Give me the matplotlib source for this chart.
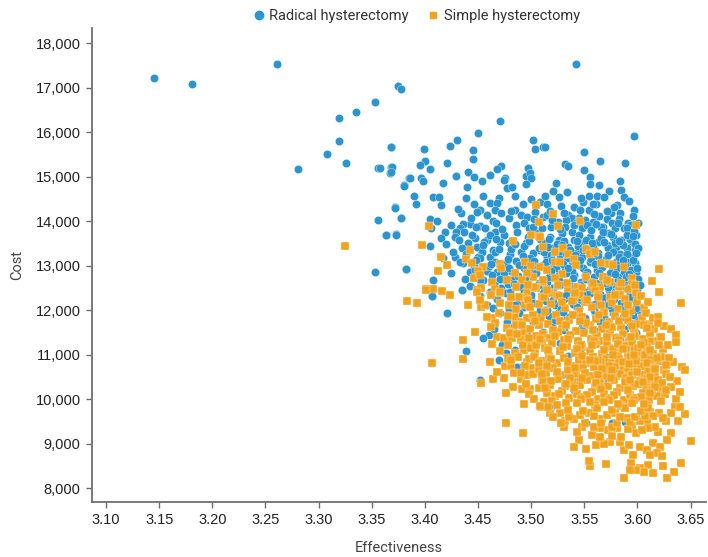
import numpy as np
import matplotlib
matplotlib.use("Agg")
import matplotlib.pyplot as plt
from matplotlib.ticker import FuncFormatter, FixedLocator
from matplotlib.lines import Line2D

# (effectiveness, cost) pairs
radical_outliers = [
    (3.145, 17230), (3.181, 17080), (3.261, 17540), (3.542, 17540), (3.375, 17047), (3.378, 16973),
    (3.353, 16674), (3.335, 16456), (3.319, 16315), (3.319, 15805), (3.308, 15512), (3.326, 15310),
    (3.281, 15175), (3.368, 15670), (3.356, 15191), (3.368, 15227), (3.367, 15092), (3.380, 14809),
    (3.385, 14980), (3.372, 14315), (3.378, 14068), (3.356, 14036), (3.363, 13700), (3.373, 13708),
    (3.353, 12861), (3.382, 12935),
]

radical_left = [
    (3.471, 16262), (3.450, 15977), (3.430, 15827), (3.424, 15700), (3.368, 15670), (3.399, 15632),
    (3.502, 15827), (3.504, 15617), (3.511, 15677), (3.445, 15610), (3.445, 15400), (3.400, 15363),
    (3.421, 15310), (3.395, 15266), (3.369, 15228), (3.368, 15100), (3.405, 15168), (3.358, 15190),
    (3.441, 15100), (3.472, 15236), (3.468, 15168), (3.497, 15190), (3.461, 15040), (3.429, 15026),
    (3.446, 14988), (3.396, 14980), (3.398, 14906), (3.386, 14980), (3.475, 14980), (3.474, 14928),
    (3.495, 15018), (3.499, 15078), (3.500, 14966), (3.417, 14853), (3.454, 14906), (3.380, 14800),
    (3.440, 14778), (3.495, 14838), (3.477, 14741), (3.482, 14778), (3.390, 14569), (3.455, 14576),
    (3.408, 14554), (3.413, 14539), (3.439, 14531), (3.470, 14516), (3.485, 14576), (3.392, 14381),
    (3.415, 14366), (3.446, 14381), (3.461, 14404), (3.468, 14404), (3.372, 14307), (3.452, 14254),
    (3.449, 14217), (3.466, 14254), (3.485, 14254), (3.500, 14494), (3.508, 14441), (3.434, 14194),
    (3.472, 14180), (3.490, 14142), (3.504, 14217), (3.496, 14105), (3.378, 14067), (3.405, 14045),
    (3.411, 14015), (3.479, 14067), (3.464, 14015), (3.511, 14105), (3.442, 13932), (3.436, 13932),
    (3.452, 13895), (3.433, 13857), (3.457, 13857), (3.486, 13917), (3.493, 13955), (3.406, 13842),
    (3.419, 13767), (3.429, 13767), (3.363, 13700), (3.373, 13700), (3.466, 13767), (3.428, 13655),
    (3.415, 13633), (3.447, 13633), (3.458, 13580), (3.474, 13693), (3.497, 13655), (3.505, 13730),
    (3.441, 13505), (3.405, 13445), (3.435, 13393), (3.449, 13415), (3.471, 13528), (3.479, 13505),
    (3.495, 13505), (3.454, 13318), (3.464, 13355), (3.480, 13258), (3.490, 13318), (3.508, 13355),
    (3.428, 13206), (3.450, 13206), (3.461, 13206), (3.417, 13168), (3.436, 13056), (3.446, 12996),
    (3.466, 13093), (3.486, 13108), (3.382, 12929), (3.425, 12831), (3.442, 12869), (3.458, 12891),
    (3.468, 12869), (3.482, 12869), (3.493, 12944), (3.500, 12891), (3.408, 12681), (3.442, 12554),
    (3.455, 12681), (3.466, 12629), (3.483, 12644), (3.496, 12606), (3.507, 12606), (3.435, 12457),
    (3.472, 12494), (3.407, 12329), (3.452, 12322),
    (3.431, 14280), (3.443, 14080), (3.458, 14150), (3.467, 13960), (3.481, 14240), (3.492, 14380),
    (3.503, 14060), (3.425, 13920), (3.437, 13760), (3.448, 13880), (3.461, 13700), (3.473, 13830),
    (3.487, 13770), (3.498, 13860), (3.508, 13600), (3.420, 13500), (3.432, 13580), (3.444, 13700),
    (3.456, 13530), (3.467, 13600), (3.481, 13380), (3.493, 13440), (3.502, 13290), (3.426, 13300),
    (3.439, 13270), (3.452, 13180), (3.466, 13300), (3.476, 13050), (3.489, 13020), (3.499, 13170),
    (3.433, 13090), (3.447, 12900), (3.460, 12990), (3.474, 12840), (3.484, 12770), (3.497, 12820),
    (3.506, 12970), (3.438, 12700), (3.452, 12680), (3.465, 12560), (3.478, 12600), (3.490, 12530),
]

radical_right = [
    (3.597, 15925), (3.513, 15677), (3.550, 15558), (3.565, 15348), (3.588, 15310), (3.532, 15288),
    (3.535, 15236), (3.550, 15146), (3.555, 15003), (3.584, 14913), (3.523, 14853), (3.555, 14831),
    (3.564, 14808), (3.521, 14689), (3.573, 14681), (3.585, 14704), (3.526, 14539), (3.554, 14576),
    (3.562, 14576), (3.587, 14554), (3.515, 14389), (3.549, 14441), (3.561, 14381), (3.581, 14374),
    (3.540, 14314), (3.546, 14254), (3.554, 14254), (3.584, 14194), (3.575, 14194), (3.515, 14142),
    (3.535, 14142), (3.538, 14067), (3.564, 14120), (3.533, 14030), (3.543, 13992), (3.551, 14030),
    (3.558, 13992), (3.571, 14045), (3.576, 13955), (3.591, 13970), (3.519, 13880), (3.532, 13880),
    (3.548, 13842), (3.568, 13865), (3.587, 13842), (3.599, 13693), (3.529, 13730), (3.518, 13655),
    (3.555, 13655), (3.573, 13730), (3.577, 13655), (3.591, 13655), (3.526, 13580), (3.540, 13580),
    (3.563, 13543), (3.585, 13580), (3.595, 13543), (3.513, 13505), (3.549, 13505), (3.571, 13468),
    (3.580, 13430), (3.521, 13393), (3.535, 13430), (3.590, 13393), (3.598, 13355), (3.543, 13281),
    (3.563, 13296), (3.574, 13281), (3.584, 13266), (3.515, 13206), (3.527, 13206), (3.548, 13206),
    (3.596, 13206), (3.538, 13116), (3.555, 13093), (3.568, 13071), (3.580, 13093), (3.591, 13093),
    (3.598, 13056), (3.511, 13018), (3.521, 12996), (3.532, 12944), (3.549, 12944), (3.562, 12906),
    (3.576, 12891), (3.587, 12869), (3.599, 12869), (3.526, 12794), (3.540, 12794), (3.559, 12756),
    (3.569, 12756), (3.582, 12741), (3.595, 12719), (3.515, 12644), (3.532, 12621), (3.547, 12644),
    (3.565, 12606), (3.577, 12621), (3.588, 12591), (3.599, 12569), (3.521, 12494), (3.540, 12457),
    (3.555, 12472), (3.573, 12457), (3.585, 12457), (3.596, 12442), (3.513, 12344), (3.529, 12307),
    (3.549, 12322), (3.570, 12307), (3.591, 12307), (3.601, 12307),
    (3.513, 14560), (3.528, 14350), (3.534, 14650), (3.547, 14520), (3.558, 14400), (3.569, 14550),
    (3.578, 14320), (3.592, 14450), (3.597, 14250), (3.518, 14230), (3.531, 14180), (3.545, 14070),
    (3.559, 14160), (3.571, 14230), (3.583, 14060), (3.596, 14110), (3.525, 13990), (3.538, 13760),
    (3.553, 13920), (3.566, 13870), (3.579, 13840), (3.593, 13920), (3.601, 13960),
]

radical_core = [
    (3.517, 13610), (3.524, 13480), (3.531, 13560), (3.537, 13350), (3.544, 13440), (3.552, 13590),
    (3.558, 13420), (3.566, 13620), (3.572, 13390), (3.579, 13520), (3.586, 13460), (3.593, 13600),
    (3.598, 13480), (3.512, 13300), (3.519, 13240), (3.528, 13330), (3.534, 13170), (3.541, 13250),
    (3.549, 13360), (3.556, 13150), (3.563, 13230), (3.570, 13160), (3.577, 13320), (3.583, 13190),
    (3.590, 13270), (3.596, 13130), (3.601, 13410), (3.514, 13080), (3.523, 12960), (3.530, 13040),
    (3.538, 12880), (3.545, 13010), (3.553, 12870), (3.560, 13030), (3.567, 12980), (3.574, 12830),
    (3.581, 12960), (3.588, 13010), (3.594, 12910), (3.600, 12960), (3.517, 12760), (3.526, 12690),
    (3.533, 12840), (3.539, 12720), (3.546, 12560), (3.552, 12700), (3.561, 12620), (3.568, 12750),
    (3.575, 12560), (3.582, 12680), (3.589, 12740), (3.595, 12600), (3.601, 12700), (3.512, 12520),
    (3.520, 12420), (3.527, 12560), (3.535, 12380), (3.543, 12480), (3.551, 12410), (3.558, 12550),
    (3.565, 12370), (3.572, 12520), (3.579, 12420), (3.586, 12540), (3.593, 12400), (3.600, 12480),
    (3.514, 12200), (3.522, 12120), (3.531, 12260), (3.539, 12150), (3.547, 12230), (3.556, 12110),
    (3.563, 12210), (3.571, 12140), (3.578, 12260), (3.585, 12170), (3.592, 12230), (3.599, 12130),
    (3.517, 11880), (3.526, 11960), (3.534, 11850), (3.542, 11920), (3.551, 11830), (3.560, 11940),
    (3.569, 11860), (3.577, 11950), (3.586, 11840), (3.594, 11920), (3.601, 11780), (3.520, 11640),
    (3.531, 11560), (3.548, 11620), (3.562, 11540), (3.575, 11650), (3.588, 11590), (3.598, 11660),
    (3.485, 13480), (3.492, 13230), (3.498, 13560), (3.503, 13100), (3.507, 13400), (3.478, 13150),
    (3.470, 13380), (3.462, 13050), (3.455, 13460), (3.448, 13120), (3.488, 12780), (3.479, 12950),
    (3.471, 12710), (3.463, 12800), (3.452, 12520), (3.497, 12690), (3.505, 12850), (3.484, 12590),
    (3.476, 12380), (3.493, 12420), (3.506, 12560), (3.500, 12250), (3.489, 12190), (3.468, 12250),
    (3.458, 12130), (3.512, 12010), (3.505, 11890), (3.520, 14020), (3.527, 13820), (3.540, 13910),
    (3.556, 13800), (3.561, 13950), (3.568, 13770), (3.582, 13960), (3.590, 13840), (3.597, 13780),
    (3.545, 13700), (3.575, 13710), (3.590, 13700), (3.510, 13850), (3.502, 13870),
    (3.516, 13420), (3.529, 13470), (3.543, 13560), (3.557, 13510), (3.569, 13530), (3.583, 13560),
    (3.596, 13660), (3.520, 13130), (3.533, 13260), (3.546, 13130), (3.559, 13280), (3.572, 13240),
    (3.586, 13120), (3.599, 13290), (3.519, 12890), (3.535, 12960), (3.551, 12800), (3.564, 12840),
    (3.579, 12820), (3.592, 12810), (3.602, 12560), (3.524, 12580), (3.538, 12540), (3.556, 12640),
    (3.570, 12620), (3.583, 12600), (3.597, 12320), (3.528, 12040), (3.545, 12060), (3.560, 12140),
    (3.576, 12040), (3.590, 12090), (3.601, 12010),
]

radical_low = [
    (3.407, 12330), (3.421, 11933), (3.435, 12457), (3.464, 12045), (3.471, 11933), (3.479, 12008),
    (3.485, 12120), (3.493, 12083), (3.502, 12157), (3.508, 12008), (3.489, 11933), (3.466, 11745),
    (3.477, 11745), (3.483, 11633), (3.502, 11745), (3.511, 11521), (3.460, 11446), (3.455, 11371),
    (3.473, 11221), (3.476, 11049), (3.485, 11109), (3.439, 11094), (3.488, 10734), (3.510, 10847),
    (3.452, 10435), (3.461, 12420), (3.480, 12420), (3.500, 12345), (3.511, 12382), (3.521, 12232),
    (3.533, 12345), (3.546, 12307), (3.555, 12382), (3.568, 12270), (3.580, 12382), (3.593, 12307),
    (3.599, 12045), (3.515, 12008), (3.530, 11970), (3.543, 12083), (3.559, 12008), (3.573, 12120),
    (3.587, 12008), (3.596, 11895), (3.522, 11783), (3.549, 11708), (3.565, 11745), (3.580, 11408),
    (3.584, 11333), (3.559, 11408), (3.511, 10847), (3.529, 10547), (3.540, 10435), (3.540, 10210),
    (3.519, 9835), (3.552, 9461), (3.565, 9086), (3.576, 9461), (3.588, 9498), (3.599, 9611),
    (3.568, 10435), (3.582, 10659), (3.571, 10959), (3.590, 11109), (3.546, 11109), (3.527, 11258),
    (3.599, 11483), (3.593, 11708), (3.486, 10733), (3.465, 11580), (3.478, 11900), (3.497, 11420),
    (3.470, 10880), (3.521, 11420), (3.535, 10980), (3.556, 11280),
]

simple_upper = [
    (3.325, 13452), (3.383, 12210), (3.505, 14367), (3.507, 13977), (3.404, 13895), (3.397, 13460),
    (3.500, 13693), (3.507, 13678), (3.483, 13565), (3.511, 13430), (3.442, 13355), (3.415, 13206),
    (3.439, 13146), (3.444, 13071), (3.421, 13018), (3.455, 12966), (3.450, 12891), (3.471, 13033),
    (3.472, 12958), (3.412, 12891), (3.494, 13078), (3.500, 12996), (3.508, 12981), (3.485, 12846),
    (3.502, 12756), (3.496, 12831), (3.446, 12719), (3.452, 12794), (3.463, 12644), (3.477, 12681),
    (3.491, 12681), (3.511, 12644), (3.401, 12472), (3.408, 12472), (3.416, 12442), (3.424, 12344),
    (3.449, 12457), (3.453, 12494), (3.466, 12472), (3.471, 12397), (3.486, 12517), (3.505, 12494),
    (3.496, 12419), (3.493, 12269), (3.510, 12307), (3.599, 13917), (3.521, 14165), (3.546, 14015),
    (3.525, 13895), (3.508, 13655), (3.522, 13318), (3.530, 13393), (3.535, 13266), (3.552, 13370),
    (3.555, 13266), (3.560, 13318), (3.540, 13146), (3.522, 13093), (3.527, 13093), (3.566, 13071),
    (3.573, 13041), (3.577, 13018), (3.587, 12981), (3.542, 13018), (3.515, 12906), (3.529, 12816),
    (3.552, 12756), (3.568, 12756), (3.595, 12719), (3.620, 12929), (3.614, 12666), (3.620, 12419),
    (3.511, 12681), (3.522, 12719), (3.574, 12644), (3.595, 12591), (3.525, 12569), (3.543, 12532),
    (3.557, 12532), (3.565, 12532), (3.583, 12532), (3.535, 12494), (3.548, 12494), (3.560, 12457),
    (3.591, 12472), (3.599, 12397), (3.518, 12397), (3.524, 12344), (3.546, 12344), (3.563, 12344),
    (3.574, 12307), (3.584, 12344), (3.540, 12269),
]

simple_left = [
    (3.393, 12157), (3.401, 12457), (3.416, 12442), (3.424, 12345), (3.441, 12120), (3.453, 12083),
    (3.457, 12120), (3.471, 12157), (3.479, 12120), (3.489, 12292), (3.494, 12120), (3.497, 12232),
    (3.507, 12142), (3.471, 12420), (3.449, 12420), (3.463, 11820), (3.466, 11708), (3.485, 11858),
    (3.490, 11745), (3.496, 11820), (3.502, 11895), (3.477, 11596), (3.482, 11521), (3.493, 11521),
    (3.507, 11670), (3.447, 11506), (3.468, 11408), (3.474, 11371), (3.482, 11371), (3.490, 11333),
    (3.496, 11296), (3.504, 11258), (3.510, 11296), (3.436, 11333), (3.463, 11244), (3.485, 11034),
    (3.493, 11109), (3.504, 11034), (3.436, 10899), (3.407, 10809), (3.461, 10832), (3.475, 10749),
    (3.481, 10749), (3.496, 10847), (3.500, 10697), (3.507, 10622), (3.453, 10375), (3.464, 10450),
    (3.474, 10472), (3.490, 10450), (3.496, 10547), (3.510, 10397), (3.491, 10225), (3.499, 10225),
    (3.507, 10247), (3.498, 10113), (3.493, 9888), (3.509, 9820), (3.476, 9461), (3.492, 9251),
    (3.470, 11950), (3.478, 11880), (3.486, 11680), (3.499, 11580), (3.505, 11430), (3.480, 11480),
    (3.492, 11230), (3.500, 11150), (3.488, 10950), (3.498, 10900), (3.502, 10560), (3.495, 10350),
    (3.484, 10600), (3.462, 11620), (3.471, 11080), (3.478, 10930), (3.468, 10620), (3.483, 10280),
    (3.476, 10150), (3.503, 10010), (3.512, 9950), (3.518, 9700), (3.531, 9380), (3.545, 9090),
    (3.557, 9200), (3.561, 8980), (3.478, 11230), (3.458, 11850), (3.452, 12230), (3.486, 12020),
    (3.499, 12080),
]

simple_core = [
    (3.512, 12290), (3.519, 12150), (3.526, 12330), (3.532, 12060), (3.538, 12220), (3.545, 11990),
    (3.551, 12190), (3.557, 12070), (3.563, 12300), (3.569, 11960), (3.576, 12160), (3.582, 12040),
    (3.588, 12260), (3.594, 11990), (3.600, 12180), (3.606, 12050), (3.509, 11820), (3.516, 11700),
    (3.523, 11890), (3.529, 11620), (3.536, 11780), (3.542, 11540), (3.548, 11850), (3.555, 11660),
    (3.561, 11800), (3.567, 11580), (3.573, 11740), (3.579, 11880), (3.585, 11630), (3.591, 11780),
    (3.597, 11560), (3.604, 11830), (3.611, 11700), (3.616, 11580), (3.511, 11470), (3.518, 11380),
    (3.525, 11520), (3.531, 11330), (3.537, 11450), (3.544, 11300), (3.550, 11490), (3.556, 11360),
    (3.562, 11420), (3.568, 11310), (3.574, 11500), (3.580, 11380), (3.586, 11460), (3.592, 11320),
    (3.598, 11430), (3.605, 11360), (3.613, 11300), (3.621, 11400), (3.505, 11230), (3.513, 11150),
    (3.520, 11260), (3.527, 11090), (3.534, 11200), (3.541, 11040), (3.548, 11170), (3.555, 11080),
    (3.561, 11240), (3.567, 11010), (3.573, 11150), (3.579, 11060), (3.585, 11210), (3.591, 11000),
    (3.597, 11120), (3.603, 11050), (3.609, 11180), (3.615, 11020), (3.624, 11120), (3.503, 10950),
    (3.510, 10870), (3.517, 10980), (3.524, 10810), (3.531, 10930), (3.538, 10760), (3.545, 10890),
    (3.552, 10820), (3.558, 10960), (3.564, 10780), (3.570, 10900), (3.576, 10840), (3.582, 10970),
    (3.588, 10760), (3.594, 10880), (3.600, 10800), (3.606, 10930), (3.612, 10760), (3.619, 10870),
    (3.628, 10790), (3.507, 10680), (3.514, 10600), (3.521, 10710), (3.528, 10540), (3.535, 10660),
    (3.542, 10580), (3.549, 10700), (3.556, 10520), (3.562, 10640), (3.568, 10570), (3.574, 10690),
    (3.580, 10530), (3.586, 10650), (3.592, 10580), (3.598, 10700), (3.604, 10540), (3.610, 10640),
    (3.617, 10560), (3.625, 10660), (3.511, 10420), (3.518, 10330), (3.525, 10450), (3.532, 10290),
    (3.539, 10400), (3.546, 10320), (3.553, 10440), (3.560, 10270), (3.566, 10380), (3.572, 10300),
    (3.578, 10430), (3.584, 10260), (3.590, 10390), (3.596, 10310), (3.602, 10420), (3.608, 10280),
    (3.615, 10360), (3.622, 10240), (3.515, 10150), (3.522, 10070), (3.529, 10190), (3.536, 10020),
    (3.543, 10130), (3.550, 10050), (3.557, 10170), (3.563, 10000), (3.569, 10110), (3.575, 10040),
    (3.581, 10160), (3.587, 9990), (3.593, 10100), (3.599, 10030), (3.605, 10140), (3.611, 9980),
    (3.618, 10080), (3.571, 11270), (3.577, 11120), (3.583, 11330), (3.589, 11190), (3.595, 11280),
    (3.601, 11150), (3.559, 10720), (3.566, 10830), (3.573, 10600), (3.579, 10760), (3.585, 10560),
    (3.591, 10700), (3.597, 10610), (3.603, 10760), (3.565, 10460), (3.571, 10520), (3.589, 10470),
    (3.595, 10540), (3.601, 10350), (3.583, 10900), (3.577, 10990), (3.563, 10890), (3.593, 10960),
    (3.599, 10870), (3.607, 10990), (3.609, 10460), (3.613, 10890),
]

simple_extra = [
    (3.515, 12450), (3.529, 12180), (3.541, 12390), (3.553, 12240), (3.566, 12110), (3.579, 12350),
    (3.591, 12120), (3.603, 12320), (3.610, 12180), (3.598, 12560), (3.585, 12620), (3.571, 12690),
    (3.558, 12610), (3.534, 12620), (3.503, 12520), (3.497, 12580), (3.481, 12300), (3.462, 12350),
    (3.513, 11960), (3.527, 11770), (3.539, 11890), (3.552, 11720), (3.564, 11900), (3.576, 11620),
    (3.588, 11910), (3.600, 11700), (3.608, 11950), (3.521, 11550), (3.533, 11680), (3.546, 11760),
    (3.558, 11550), (3.570, 11660), (3.583, 11750), (3.595, 11650), (3.615, 11820), (3.625, 11650),
    (3.504, 11760), (3.491, 11660), (3.508, 11350), (3.522, 11420), (3.535, 11350), (3.547, 11230),
    (3.559, 11310), (3.571, 11390), (3.582, 11250), (3.594, 11400), (3.606, 11260), (3.619, 11300),
    (3.629, 11230), (3.516, 11100), (3.530, 11180), (3.543, 11130), (3.557, 11210), (3.569, 11100),
    (3.586, 11120), (3.603, 11230), (3.612, 11100), (3.498, 11380), (3.487, 11460), (3.507, 10810),
    (3.519, 10900), (3.535, 10840), (3.548, 10980), (3.560, 10860), (3.573, 10760), (3.586, 10840),
    (3.597, 10990), (3.609, 10820), (3.622, 10960), (3.633, 10830), (3.515, 10750), (3.541, 10700),
    (3.555, 10880), (3.567, 10680), (3.592, 10790), (3.616, 10700), (3.494, 10760), (3.481, 10880),
    (3.510, 10560), (3.524, 10620), (3.537, 10480), (3.551, 10600), (3.563, 10540), (3.576, 10650),
    (3.588, 10400), (3.600, 10620), (3.612, 10500), (3.627, 10580), (3.637, 10420), (3.519, 10410),
    (3.533, 10350), (3.548, 10480), (3.561, 10360), (3.575, 10480), (3.593, 10440), (3.605, 10380),
    (3.619, 10430), (3.490, 10590), (3.513, 10260), (3.526, 10110), (3.540, 10260), (3.553, 10100),
    (3.566, 10230), (3.578, 10100), (3.591, 10220), (3.603, 10060), (3.614, 10200), (3.626, 10110),
    (3.520, 9960), (3.533, 9920), (3.547, 10010), (3.560, 9870), (3.573, 9980), (3.585, 9860),
    (3.597, 9980), (3.609, 9870), (3.622, 9960), (3.636, 10010), (3.527, 9700), (3.540, 9560),
    (3.554, 9690), (3.567, 9560), (3.579, 9700), (3.590, 9580), (3.612, 9720), (3.627, 9520),
    (3.548, 9380), (3.572, 9300), (3.595, 9400), (3.619, 9260), (3.638, 9520), (3.645, 9680),
    (3.532, 9520),
]

simple_low = [
    (3.620, 12420), (3.641, 12157), (3.619, 11858), (3.619, 11708), (3.632, 11573), (3.636, 11446),
    (3.636, 11281), (3.622, 11408), (3.612, 11483), (3.606, 11671), (3.609, 11596), (3.620, 11221),
    (3.630, 10922), (3.618, 10922), (3.627, 10772), (3.642, 10719), (3.645, 10659), (3.617, 10674),
    (3.631, 10494), (3.623, 10360), (3.632, 10285), (3.640, 10172), (3.627, 10210), (3.617, 10285),
    (3.612, 10135), (3.635, 9835), (3.640, 9820), (3.632, 9686), (3.620, 9701), (3.624, 9573),
    (3.615, 9626), (3.609, 9498), (3.617, 9386), (3.610, 9349), (3.632, 9236), (3.628, 9086),
    (3.650, 9071), (3.615, 9011), (3.621, 8937), (3.602, 8937), (3.609, 8862), (3.618, 8802),
    (3.612, 8749), (3.623, 8734), (3.641, 8562), (3.624, 8502), (3.610, 8525), (3.602, 8450),
    (3.606, 8375), (3.615, 8337), (3.634, 8375), (3.628, 8225), (3.599, 8412), (3.594, 8577),
    (3.593, 8412), (3.596, 8749), (3.587, 8225), (3.570, 8547), (3.555, 8502), (3.554, 8622),
    (3.540, 8937), (3.552, 8877), (3.587, 8862), (3.584, 9049), (3.592, 8974), (3.574, 9049),
    (3.569, 8997), (3.565, 9161), (3.576, 9176), (3.585, 9161), (3.599, 9236), (3.604, 9311),
    (3.591, 9326), (3.581, 9349), (3.576, 9386), (3.565, 9349), (3.559, 9386), (3.543, 9274),
    (3.551, 9461), (3.566, 9461), (3.581, 9476), (3.593, 9498), (3.602, 9521), (3.607, 9626),
    (3.598, 9611), (3.584, 9611), (3.571, 9648), (3.559, 9626), (3.546, 9648), (3.536, 9611),
    (3.528, 9461), (3.521, 9611), (3.535, 9761), (3.549, 9741), (3.562, 9798), (3.576, 9771),
    (3.588, 9808), (3.603, 9746), (3.610, 9798), (3.516, 9835), (3.508, 9845), (3.524, 9873),
    (3.543, 9910), (3.555, 9935), (3.569, 9948), (3.582, 9900), (3.595, 9925), (3.606, 9890),
]

radical = np.array(radical_outliers + radical_left + radical_right + radical_core + radical_low)
simple = np.array(simple_upper + simple_left + simple_core + simple_extra + simple_low)

blue = '#2c95cf'
orange = '#f2a31d'

fig = plt.figure(figsize=(7.08, 5.57), dpi=100)
ax = fig.add_axes([0.1295, 0.0993, 0.8675, 0.8504])

ax.scatter(radical[:, 0], radical[:, 1], s=36, marker='o', color=blue,
           edgecolors='white', linewidths=0.25, zorder=2)
ax.scatter(simple[:, 0], simple[:, 1], s=28, marker='s', color=orange,
           edgecolors='white', linewidths=0.25, zorder=3)

ax.set_xlim(3.0865, 3.6644)
ax.set_ylim(7700, 18344)

xticks = [3.10, 3.15, 3.20, 3.25, 3.30, 3.35, 3.40, 3.45, 3.50, 3.55, 3.60, 3.65]
yticks = [8000, 9000, 10000, 11000, 12000, 13000, 14000, 15000, 16000, 17000, 18000]
ax.xaxis.set_major_locator(FixedLocator(xticks))
ax.yaxis.set_major_locator(FixedLocator(yticks))
ax.xaxis.set_major_formatter(FuncFormatter(lambda v, p: f'{v:.2f}'))
ax.yaxis.set_major_formatter(FuncFormatter(lambda v, p: f'{int(round(v)):,}'))

for side in ['top', 'right']:
    ax.spines[side].set_visible(False)
for side in ['left', 'bottom']:
    ax.spines[side].set_color('#6e6e6e')
    ax.spines[side].set_linewidth(1.3)

ax.tick_params(axis='both', length=4, width=1, color='#6e6e6e', labelcolor='#222222',
               labelsize=10.5, pad=4)
for lab in ax.get_xticklabels() + ax.get_yticklabels():
    lab.set_family('Liberation Sans')

ax.set_xlabel('Effectiveness', family='Roboto', fontsize=10.5, color='#444444', labelpad=10)
ax.set_ylabel('Cost', family='Roboto', fontsize=10.5, color='#444444', labelpad=8)

handles = [
    Line2D([], [], marker='o', linestyle='none', color=blue, markersize=6),
    Line2D([], [], marker='s', linestyle='none', color=orange, markersize=5),
]
fig.legend(handles, ['Radical hysterectomy', 'Simple hysterectomy'], loc='upper center',
           bbox_to_anchor=(0.587, 1.008), ncol=2, frameon=False, handletextpad=0.2,
           columnspacing=1.2, handlelength=1.0, prop={'family': 'Roboto', 'size': 10.5},
           labelcolor='#333333')

fig.savefig('out.png', dpi=100)
